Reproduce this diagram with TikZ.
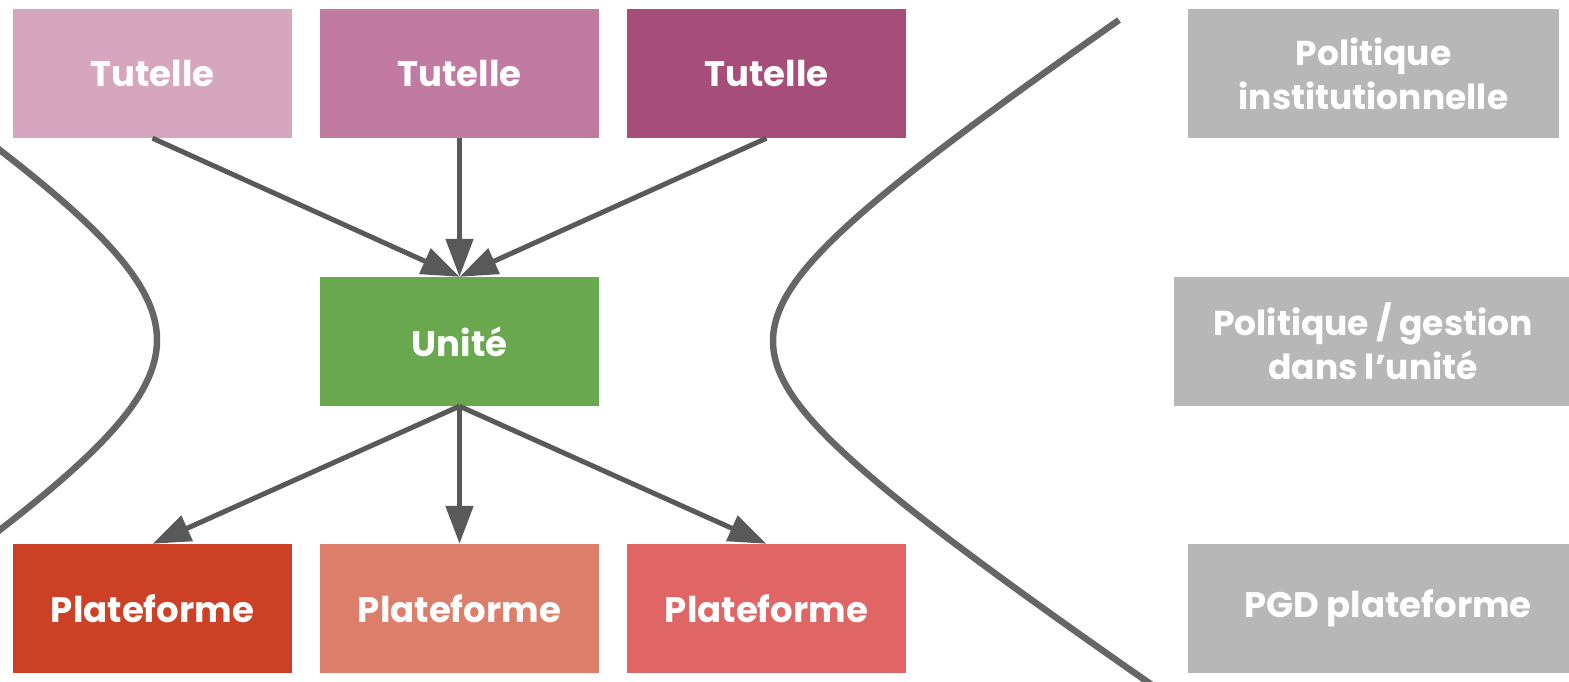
\documentclass[tikz,border=0pt]{standalone}
\usepackage{fontspec}
\setmainfont{Poppins}
\usetikzlibrary{arrows.meta}
\definecolor{tutA}{HTML}{D5A6BD}
\definecolor{tutB}{HTML}{C27BA0}
\definecolor{tutC}{HTML}{A64D79}
\definecolor{unitgreen}{HTML}{6AA84F}
\definecolor{platA}{HTML}{CC4125}
\definecolor{platB}{HTML}{DD7E6B}
\definecolor{platC}{HTML}{E06666}
\definecolor{levelgray}{HTML}{B7B7B7}
\definecolor{arrowgray}{HTML}{595959}
\definecolor{curvegray}{HTML}{666666}
\begin{document}
\begin{tikzpicture}[x=1pt,y=-1pt,
    box/.style={minimum width=279pt,minimum height=129pt,inner sep=0pt,text=white,
        font=\fontsize{35.5pt}{44pt}\selectfont\bfseries},
    lvl/.style={box,fill=levelgray,align=center,font=\fontsize{34.5pt}{44pt}\selectfont\bfseries},
    fleche/.style={draw=arrowgray,line width=5pt,-{Triangle[length=38pt,width=27pt]}},
    courbe/.style={draw=curvegray,line width=6.5pt}]
    \useasboundingbox (0,0) rectangle (1569,682);
    \node[box,fill=tutA] (t1) at (152.5,73.5) {Tutelle};
    \node[box,fill=tutB] (t2) at (459.5,73.5) {Tutelle};
    \node[box,fill=tutC] (t3) at (766.5,73.5) {Tutelle};
    \node[box,fill=unitgreen] (u) at (459.5,341.5) {Unité};
    \node[box,fill=platA] (p1) at (152.5,608.5) {Plateforme};
    \node[box,fill=platB] (p2) at (459.5,608.5) {Plateforme};
    \node[box,fill=platC] (p3) at (766.5,608.5) {Plateforme};
    \node[lvl,minimum width=371pt] (g1) at (1373.5,73.5) {Politique\\institutionnelle};
    \node[lvl,minimum width=398pt] (g2) at (1373,341.5) {Politique / gestion\\dans l’unité};
    \node[lvl,minimum width=400pt,font=\fontsize{35.5pt}{44pt}\selectfont\bfseries] (g3) at (1388,608.5) {PGD plateforme};
    \foreach \t in {t1,t2,t3}{
        \draw[fleche] (\t.south)--(u.north);
    }
    \foreach \p in {p1,p2,p3}{
        \draw[fleche] (u.south)--(\p.north);
    }
    \begin{scope}
        \clip (0,0) rectangle (1569,682);
        \draw[courbe] plot[domain=-230:230,samples=120,variable=\s] ({157-204*(sqrt(1+(\s/130)^2)-1)},{340+\s});
        \draw[courbe] plot[domain=-321:350,samples=160,variable=\s] ({773+166*(sqrt(1+(\s/110)^2)-1)},{341+\s});
    \end{scope}
\end{tikzpicture}
\end{document}
